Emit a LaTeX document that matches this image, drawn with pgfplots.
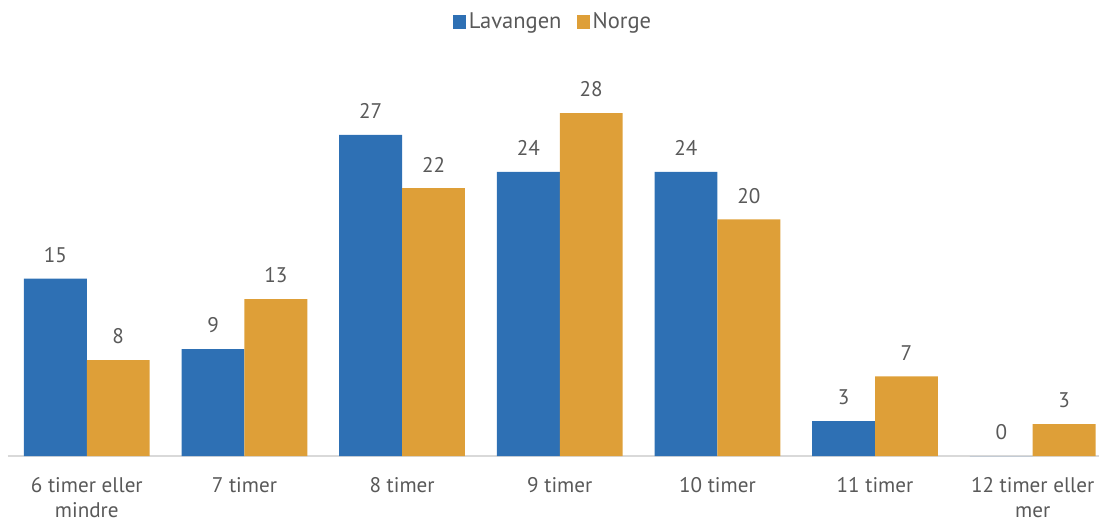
\documentclass[border=0pt]{standalone}
\usepackage{pgfplots}
\pgfplotsset{compat=1.18}
\usepackage{fontspec}
\setmainfont{PT Sans}
\definecolor{lblue}{RGB}{46,112,180}
\definecolor{norange}{RGB}{222,159,56}
\definecolor{txt}{RGB}{89,89,89}
\begin{document}
\begin{tikzpicture}
\begin{axis}[
  scale only axis,
  width=546.7pt, height=187.55pt,
  xmin=-0.5, xmax=6.42,
  ymin=0, ymax=31,
  ybar=0pt, bar width=31.5pt,
  hide y axis,
  axis x line=bottom,
  x axis line style={draw=black!15, line width=0.8pt, -},
  xtick=data,
  xticklabels={{6 timer eller\\mindre},{7 timer},{8 timer},{9 timer},{10 timer},{11 timer},{12 timer eller\\mer}},
  xticklabel style={align=center, font=\fontsize{10.6}{12.6}\selectfont, text=txt, yshift=-7pt},
  major tick length=0pt,
  nodes near coords,
  point meta=explicit symbolic,
  nodes near coords style={font=\fontsize{10.6}{12}\selectfont, text=txt, anchor=south, yshift=4.5pt},
  clip=false,
  legend style={at={(0.5,1.16)}, anchor=center, draw=none, fill=none, legend columns=2,
    font=\fontsize{11.3}{13}\selectfont, text=txt,
    /tikz/every even column/.append style={column sep=6pt},
    nodes={inner xsep=1.5pt}},
  legend image code/.code={\fill[#1] (0pt,-3.3pt) rectangle (6.6pt,3.3pt);},
]
\addplot[fill=lblue, draw=none] table[x=x, y=y, meta=lab] {
x y lab
0 14.7 15
1 8.85 9
2 26.6 27
3 23.55 24
4 23.55 24
5 2.9 3
6 0 0
};
\addplot[fill=norange, draw=none] table[x=x, y=y, meta=lab] {
x y lab
0 7.95 8
1 13.0 13
2 22.2 22
3 28.4 28
4 19.6 20
5 6.6 7
6 2.65 3
};
\legend{Lavangen, Norge}
\coordinate (bl) at (rel axis cs:0,0);
\coordinate (tr) at (rel axis cs:1,1);
\end{axis}
\path[use as bounding box] ([xshift=-4pt,yshift=-31pt]bl) rectangle ([yshift=41pt]tr);
\end{tikzpicture}
\end{document}
